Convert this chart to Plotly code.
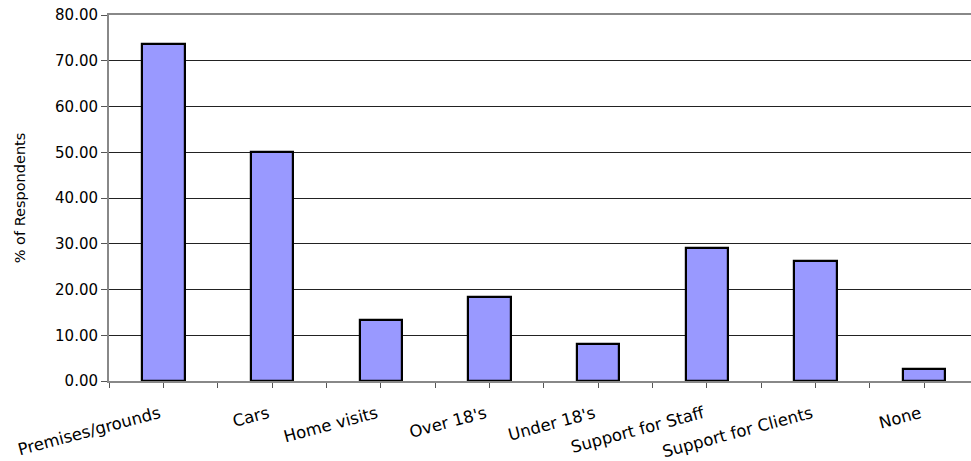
import plotly.graph_objects as go

categorias = ["Premises/grounds", "Cars", "Home visits", "Over 18's",
              "Under 18's", "Support for Staff", "Support for Clients", "None"]
porcentajes = [73.7, 50.0, 13.3, 18.4, 8.0, 29.0, 26.3, 2.7]
y_ticks = [0, 10, 20, 30, 40, 50, 60, 70, 80]
y_labels = [f"{v:.2f}" for v in y_ticks]

pos = list(range(len(categorias)))

# ticks en centros y en limites entre categorias
tick_vals = []
tick_text = []
for i, c in enumerate(categorias):
    tick_vals += [i - 0.5, i]
    tick_text += ["", c]

fig = go.Figure()
fig.add_trace(go.Bar(
    x=pos, y=porcentajes,
    width=0.39,
    marker=dict(color="#9999FF", line=dict(color="#000000", width=2.2)),
))

fig.update_layout(
    width=971, height=461,
    paper_bgcolor="white", plot_bgcolor="white",
    margin=dict(l=109, r=0, t=15, b=80),
    font=dict(family="DejaVu Sans, Arial, sans-serif", size=15, color="#000000"),
    showlegend=False,
    bargap=0,
)
fig.update_xaxes(
    range=[-0.5, 7.43],
    tickmode="array", tickvals=tick_vals, ticktext=tick_text,
    tickangle=-15, tickfont=dict(size=16.5),
    ticks="outside", ticklen=5, tickcolor="#555555", tickwidth=1,
    ticklabelstandoff=10, ticklabelshift=-4, ticklabeloverflow="allow",
    showline=True, linecolor="#888888", linewidth=2, mirror=True,
    showgrid=False, zeroline=False, automargin=False,
)
fig.update_yaxes(
    range=[0, 80],
    tickmode="array", tickvals=y_ticks, ticktext=y_labels,
    ticks="outside", ticklen=6, tickcolor="#555555",
    ticklabeloverflow="allow",
    showline=True, linecolor="#888888", linewidth=2,
    showgrid=True, gridcolor="#222222", gridwidth=1,
    zeroline=False, automargin=False,
    title=dict(text="% of Respondents", font=dict(size=14.5), standoff=26),
)

# quitar el margen por defecto del body para que el grafico ocupe la ventana
fig.write_html("out.html",
               config={"displayModeBar": False},
               post_script="document.body.style.margin='0';document.body.style.overflow='hidden';")
